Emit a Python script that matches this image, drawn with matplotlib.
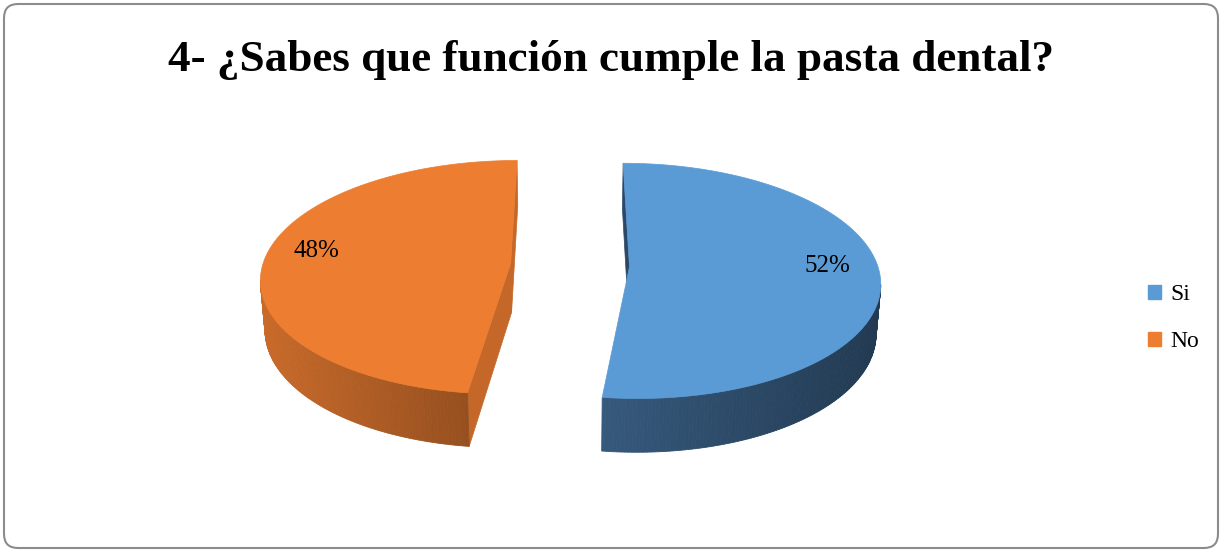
import numpy as np
import matplotlib.pyplot as plt
from matplotlib.patches import Polygon, FancyBboxPatch, Patch
from matplotlib.colors import to_rgb

title = "4- ¿Sabes que función cumple la pasta dental?"
labels = ["Si", "No"]
values = [52, 48]
top_colors = ["#5B9BD5", "#ED7D31"]
side_light = ["#36597C", "#C96A2A"]
side_dark = ["#223A52", "#96501F"]
face_colors = ["#2B4868", "#C46729"]

W, H = 1222, 552
fig = plt.figure(figsize=(W / 100, H / 100), dpi=100)
ax = fig.add_axes([0, 0, 1, 1])
ax.set_xlim(0, W)
ax.set_ylim(H, 0)
ax.axis("off")

# outer rounded frame
ax.add_patch(FancyBboxPatch((4, 4), W - 8, H - 8,
                            boxstyle="round,pad=0,rounding_size=14",
                            ec="#8c8c8c", fc="white", lw=1.5, zorder=0))

# tilted pie: unit radius, x right, y away from viewer, d = depth (0 top, 1 bottom)
X0, Y0 = 570, 265
SX, SY, SZ = 248, 115.5, 50
P_BACK, P_DOWN = 0.12, 0.015
EXPLODE = 0.24
CAM_Y = -1 / P_BACK


def proj(x, y, d):
    w = 1 + P_BACK * y + P_DOWN * d
    return X0 + SX * x / w, Y0 + (-SY * y + SZ * d) / w


def faces_camera(nx, ny, px, py):
    return nx * (0 - px) + ny * (CAM_Y - py) > 0


def lerp(c1, c2, t):
    a, b = np.array(to_rgb(c1)), np.array(to_rgb(c2))
    return tuple(a + (b - a) * t)


total = sum(values)
start = 0.0
for i, v in enumerate(values):
    a0 = start
    a1 = start + 360.0 * v / total
    start = a1
    mid = np.radians((a0 + a1) / 2)
    ox, oy = EXPLODE * np.sin(mid), EXPLODE * np.cos(mid)

    th = np.radians(np.linspace(a0, a1, 240))
    rx, ry = ox + np.sin(th), oy + np.cos(th)

    # radial cut faces
    for a, sgn in ((a0, -1), (a1, 1)):
        ar = np.radians(a)
        nx, ny = np.sin(ar + sgn * np.pi / 2), np.cos(ar + sgn * np.pi / 2)
        px, py = ox + np.sin(ar), oy + np.cos(ar)
        if not faces_camera(nx, ny, ox, oy):
            continue
        quad = [proj(ox, oy, 0), proj(px, py, 0), proj(px, py, 1), proj(ox, oy, 1)]
        ax.add_patch(Polygon(quad, closed=True, fc=face_colors[i],
                             ec=face_colors[i], lw=0.5, zorder=2))

    # curved outer wall, shaded left to right
    segs = []
    for k in range(len(th) - 1):
        tm = (th[k] + th[k + 1]) / 2
        if faces_camera(np.sin(tm), np.cos(tm), ox + np.sin(tm), oy + np.cos(tm)):
            segs.append(k)
    if segs:
        xs = [proj(rx[k], ry[k], 0)[0] for k in segs]
        xmin, xmax = min(xs), max(xs)
        for k in segs:
            quad = [proj(rx[k], ry[k], 0), proj(rx[k + 1], ry[k + 1], 0),
                    proj(rx[k + 1], ry[k + 1], 1), proj(rx[k], ry[k], 1)]
            t = (proj(rx[k], ry[k], 0)[0] - xmin) / max(xmax - xmin, 1)
            c = lerp(side_light[i], side_dark[i], t)
            ax.add_patch(Polygon(quad, closed=True, fc=c, ec=c, lw=0.6, zorder=3))

    # top face
    top = [proj(ox, oy, 0)] + [proj(x, y, 0) for x, y in zip(rx, ry)]
    ax.add_patch(Polygon(top, closed=True, fc=top_colors[i], ec=top_colors[i],
                         lw=0.5, zorder=4))

    # percentage label, nudged toward the back of the slice
    lx, ly = proj(ox + 0.8 * np.sin(mid), oy + 0.8 * np.cos(mid) + 0.06, 0)
    ax.text(lx, ly, f"{round(100 * v / total)}%", ha="center", va="center",
            family="Liberation Serif", fontsize=18, color="black", zorder=5)

ax.text(611, 60, title, ha="center", va="center", family="Liberation Serif",
        fontweight="bold", fontsize=32.5, color="black")

handles = [Patch(facecolor=c, edgecolor=c) for c in top_colors]
ax.legend(handles, labels, loc="center left",
          bbox_to_anchor=(1127 / W, 1 - 318 / H), frameon=False,
          prop={"family": "Liberation Serif", "size": 17},
          handlelength=0.55, handleheight=0.55, handletextpad=0.4,
          labelspacing=1.1)

fig.savefig("out.png", dpi=100)
